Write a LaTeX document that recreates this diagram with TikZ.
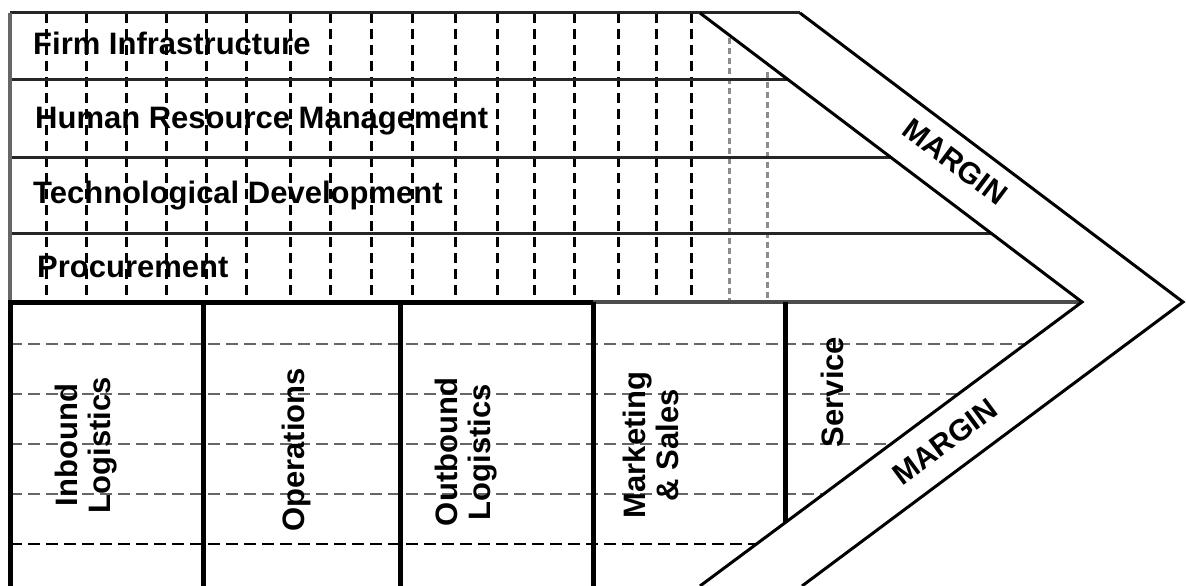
\documentclass[tikz,border=0pt]{standalone}
\usepackage{fontspec}
\setmainfont{Liberation Sans}

\tikzset{
  rowline/.style={line width=3pt, black!85},
  actline/.style={line width=5pt, black},
  bandline/.style={line width=3pt, black, line join=miter},
  vdash/.style={line width=3pt, black, dash pattern=on 10pt off 6pt},
  vdashlight/.style={line width=3pt, black!45, dash pattern=on 6pt off 4pt},
  hdash/.style={line width=2.8pt, black!60, dash pattern=on 12pt off 6pt},
  supporttext/.style={anchor=base west, inner sep=0pt, font=\fontsize{31}{33}\selectfont\bfseries},
  primarytext/.style={rotate=90, align=center, inner sep=0pt, font=\fontsize{31}{33}\selectfont\bfseries},
  margintext/.style={inner sep=0pt, font=\fontsize{30}{32}\selectfont\bfseries}
}

\begin{document}
\begin{tikzpicture}[x=1pt,y=-1pt]
    %\draw [help lines, step=50] (0,0) grid (1186,586);% pixel grid
    \useasboundingbox (0,0) rectangle (1186,586);

    \coordinate (inTop) at (700,13);
    \coordinate (inTip) at (1082,302);
    \coordinate (inBot) at (700,586);
    \coordinate (outTop) at (800,13);
    \coordinate (outTip) at (1183,302);
    \coordinate (outBot) at (802,586);

    % support activities
    \draw[vdash] (46,13) -- (46,302);
    \draw[vdash] (86,13) -- (86,302);
    \draw[vdash] (126,13) -- (126,302);
    \draw[vdash] (166,13) -- (166,302);
    \draw[vdash] (206,13) -- (206,302);
    \draw[vdash] (246,13) -- (246,302);
    \draw[vdash] (290,13) -- (290,302);
    \draw[vdash] (330,13) -- (330,302);
    \draw[vdash] (371,13) -- (371,302);
    \draw[vdash] (412,13) -- (412,302);
    \draw[vdash] (455,13) -- (455,302);
    \draw[vdash] (497,13) -- (497,302);
    \draw[vdash] (534,13) -- (534,302);
    \draw[vdash] (574,13) -- (574,302);
    \draw[vdash] (618,13) -- (618,302);
    \draw[vdash] (656,13) -- (656,302);
    \draw[vdash] (691,13) -- (691,302);
    \draw[vdashlight] (729,38) -- (729,302);
    \draw[vdashlight] (767,72) -- (767,302);

    \draw[rowline] (10,13) -- (outTop);
    \draw[rowline] (10,80) -- (789,80);
    \draw[rowline] (10,157) -- (890,157);
    \draw[rowline] (10,233) -- (991,233);
    \draw[line width=3.5pt, black!60] (10,13) -- (10,302);
    \draw[line width=3.5pt, black!70] (593,302) -- (inTip);

    \node[supporttext] (Firm) at (33,55) {Firm Infrastructure};
    \node[supporttext] (HRM) at (35,128) {Human Resource Management};
    \node[supporttext] (Tech) at (33,203) {Technological Development};
    \node[supporttext] (Proc) at (37,277) {Procurement};

    % primary activities
    \draw[hdash] (10,344) -- (1025,344);
    \draw[hdash] (10,394) -- (958,394);
    \draw[hdash] (10,444) -- (891,444);
    \draw[hdash] (10,494) -- (824,494);
    \draw[hdash, black] (10,544) -- (756,544);

    \draw[actline] (10,302) -- (593,302);
    \draw[actline] (10,300) -- (10,586);
    \draw[actline] (203,302) -- (203,586);
    \draw[actline] (400,302) -- (400,586);
    \draw[actline] (593,302) -- (593,586);
    \draw[actline] (785,302) -- (785,523);

    \node[primarytext] (InLog) at (86,445) {Inbound\\Logistics};
    \node[primarytext] (Ops) at (296,450) {Operations};
    \node[primarytext] (OutLog) at (466,452) {Outbound\\Logistics};
    \node[primarytext] (MktSales) at (651,445) {Marketing\\\& Sales};
    \node[primarytext] (Serv) at (832,392) {Service};

    % margin band
    \draw[bandline] (inTop) -- (inTip) -- (inBot);
    \draw[bandline] (outTop) -- (outTip) -- (outBot);

    \node[margintext, rotate=-37] (MarginUp) at (955,162) {MARGIN};
    \node[margintext, rotate=36.6] (MarginLow) at (945,442) {MARGIN};
\end{tikzpicture}
\end{document}
